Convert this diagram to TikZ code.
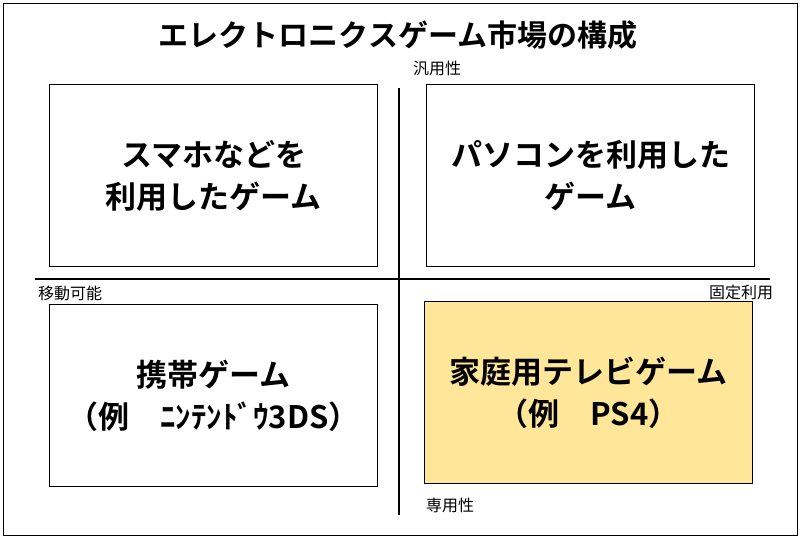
\documentclass[tikz,border=0pt]{standalone}
\usepackage{fontspec}
\newfontfamily\cjk{Noto Sans CJK JP}
\newfontfamily\cjkb{Noto Sans CJK JP Bold}
\definecolor{boxy}{HTML}{FFE699}
\begin{document}
\begin{tikzpicture}[x=1pt,y=-1pt,
  qbox/.style={draw=black,line width=1.2pt,minimum width=328pt,minimum height=182pt,anchor=north west,align=center,font=\cjkb\fontsize{31}{42}\selectfont},
  lab/.style={font=\cjk\fontsize{16}{18}\selectfont,inner sep=0pt}]
\useasboundingbox (0,0) rectangle (801,539);
\draw[line width=1pt] (3,3) rectangle (797,535);
\node[font=\cjkb\fontsize{30}{34}\selectfont] (title) at (398,35) {エレクトロニクスゲーム市場の構成};
\node[qbox] (tl) at (49,84) {スマホなどを\\利用したゲーム};
\node[qbox] (tr) at (426,84) {パソコンを利用した\\ゲーム};
\node[qbox] (bl) at (49,304) {携帯ゲーム\\（例　ﾆﾝﾃﾝﾄﾞｳ3DS）};
\node[qbox,fill=boxy] (br) at (424,301) {家庭用テレビゲーム\\（例　PS4）};
\coordinate (vt) at (399,88); \coordinate (vb) at (399,515);
\coordinate (hl) at (35,279); \coordinate (hr) at (770,279);
\draw[line width=1.2pt] (vt) -- (vb);
\draw[line width=1.2pt] (hl) -- (hr);
\node[lab] (n1) at (437,68) {汎用性};
\node[lab] (n2) at (450,505) {専用性};
\node[lab] (n3) at (70,293) {移動可能};
\node[lab] (n4) at (741,292) {固定利用};
\end{tikzpicture}
\end{document}
